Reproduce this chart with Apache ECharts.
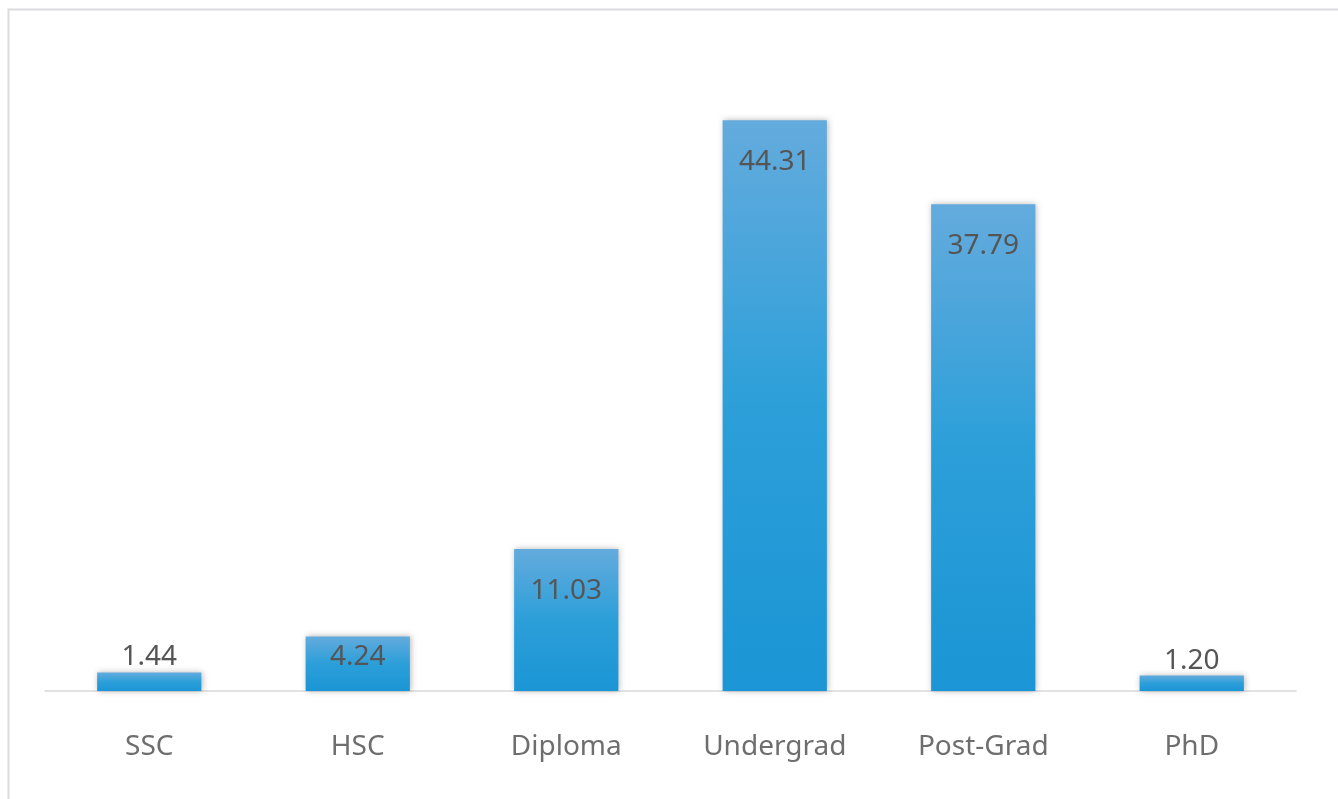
<!DOCTYPE html>
<html>
<head>
<meta charset="utf-8">
<title>Education level</title>
<script src="https://cdn.jsdelivr.net/npm/echarts@6/dist/echarts.min.js"></script>
<style>
  html, body { margin: 0; padding: 0; background: #ffffff; }
  #chart { width: 1338px; height: 799px; }
</style>
</head>
<body>
<div id="chart"></div>
<script>
// Share of respondents by highest education level (%)
const categories = ['SSC', 'HSC', 'Diploma', 'Undergrad', 'Post-Grad', 'PhD'];
const shares = [1.44, 4.24, 11.03, 44.31, 37.79, 1.20];

const FONT = '"Noto Sans", "Open Sans", sans-serif';

// Tall bars carry their value inside near the top, short ones above the bar
function labelFor(v) {
  if (v >= 10) return { position: 'insideTop', distance: 28 };
  if (v >= 2) return { position: 'insideTop', distance: 7 };
  return { position: 'top', distance: 1 };
}

const barFill = new echarts.graphic.LinearGradient(0, 0, 0, 1, [
  { offset: 0, color: '#64abdd' },
  { offset: 0.5, color: '#2c9fd9' },
  { offset: 1, color: '#1b95d5' }
]);

const chart = echarts.init(document.getElementById('chart'), null, { renderer: 'canvas' });

chart.setOption({
  backgroundColor: '#ffffff',
  animation: false,
  graphic: [{
    type: 'rect',
    left: 6,
    top: 7,
    shape: { width: 1331, height: 820 },
    style: { fill: 'none', stroke: '#dcdcdf', lineWidth: 2 },
    silent: true,
    z: -1
  }],
  grid: { left: 45, right: 42, top: 47, bottom: 108, containLabel: false },
  xAxis: {
    type: 'category',
    data: categories,
    axisLine: { show: true, lineStyle: { color: '#d9d9d9', width: 1.5 } },
    axisTick: { show: false },
    axisLabel: {
      color: '#6e6e6e',
      fontFamily: FONT,
      fontSize: 28,
      margin: 42
    }
  },
  yAxis: {
    type: 'value',
    min: 0,
    max: 50,
    show: false,
    splitLine: { show: false }
  },
  series: [{
    type: 'bar',
    barCategoryGap: '50%',
    data: shares.map(v => ({
      value: v,
      label: labelFor(v)
    })),
    itemStyle: {
      color: barFill,
      shadowColor: 'rgba(0, 0, 0, 0.28)',
      shadowBlur: 6,
      shadowOffsetX: 1,
      shadowOffsetY: 0
    },
    label: {
      show: true,
      color: '#555555',
      fontFamily: FONT,
      fontSize: 28,
      formatter: p => p.value.toFixed(2)
    }
  }]
});
</script>
</body>
</html>
